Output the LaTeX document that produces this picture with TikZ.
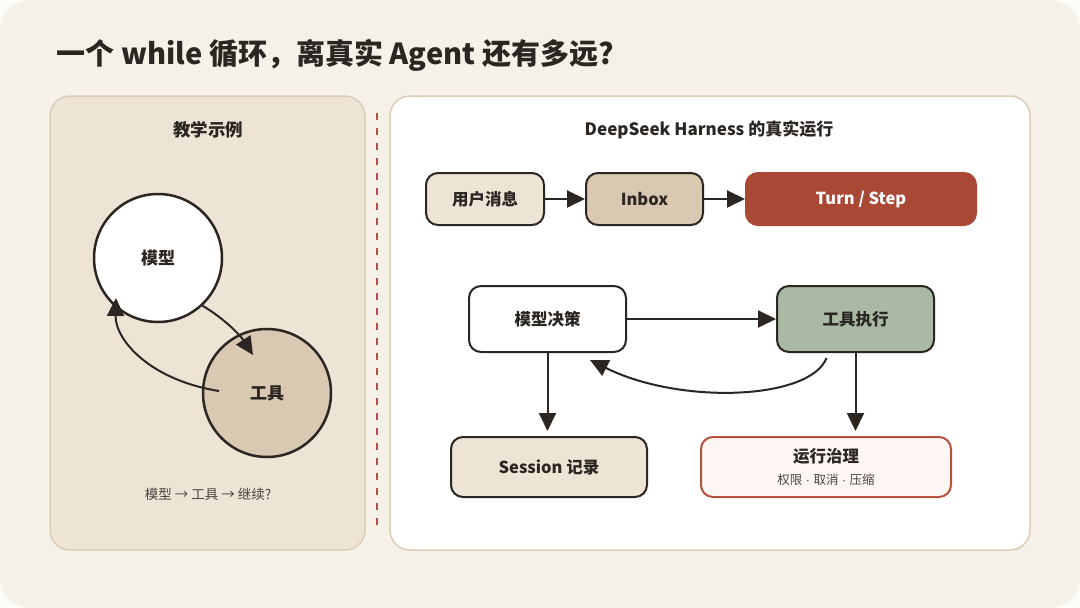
\documentclass[tikz,border=0pt]{standalone}
\usepackage{fontspec}
\setmainfont{Noto Sans CJK SC}
\newfontfamily\latinfont{Liberation Sans}
\usepackage{tikz}
\usetikzlibrary{arrows.meta,positioning,calc}
\definecolor{paper}{HTML}{F5F0E8}
\definecolor{rim}{HTML}{FCFBF8}
\definecolor{sand}{HTML}{EDE4D6}
\definecolor{sandline}{HTML}{DDCDB6}
\definecolor{clay}{HTML}{D9C8B2}
\definecolor{rust}{HTML}{A84835}
\definecolor{rustline}{HTML}{B5523D}
\definecolor{sage}{HTML}{A9B9A3}
\definecolor{blush}{HTML}{FEF6F3}
\definecolor{ink}{HTML}{2B2622}
\definecolor{muted}{HTML}{4A4440}
\newcommand{\middot}{{\latinfont\ ·\ }}

\begin{document}
\begin{tikzpicture}[x=1pt,y=-1pt,
  every node/.style={text=ink},
  panel/.style={draw=sandline,line width=1.5pt,rounded corners=20pt},
  box/.style={draw=ink,line width=2pt,rounded corners=12pt,inner sep=0pt,
    font=\bfseries\fontsize{16.5}{19}\selectfont},
  ring/.style={circle,draw=ink,line width=2.5pt,minimum size=128pt,inner sep=0pt,
    font=\bfseries\fontsize{17}{19}\selectfont},
  arr/.style={draw=ink,line width=2pt,-{Triangle[length=18pt,width=17pt]}}]
  \useasboundingbox (0,0) rectangle (1080,608);
  \fill[rim] (0,0) rectangle (1080,608);
  \fill[paper,rounded corners=30pt] (0,0) rectangle (1080,608);
  \node[anchor=base west,font=\bfseries\fontsize{29}{32}\selectfont] (title) at (53,64)
    {一个 while 循环，离真实 Agent 还有多远?};
  % teaching loop
  \draw[panel,fill=sand] (50,96) rectangle (365,550);
  \node[font=\bfseries\fontsize{17.5}{19}\selectfont] (lefthead) at (208,130) {教学示例};
  \node[ring,fill=white] (model) at (158,258) {模型};
  \node[ring,fill=clay] (tool) at (267,393) {工具};
  \draw[arr] (model.-47) .. controls ($(model.-47)+(22,13)$) and ($(tool.center)+(-27,-58)$) .. ($(tool.center)+(-14,-38)$);
  \draw[arr] ($(tool.center)+(-48,-2)$) .. controls (150,380) and (115,340) .. ($(model.center)+(-42,40)$);
  \node[font=\fontsize{13.5}{15}\selectfont,text=muted] (caption) at (208,494) {模型 → 工具 → 继续?};
  \draw[rustline,line width=2.5pt,dash pattern=on 7pt off 8pt] (377,113) -- (377,532);
  % real harness
  \draw[panel,fill=white] (390,96) rectangle (1030,550);
  \node[font=\bfseries\fontsize{17}{19}\selectfont] (righthead) at (709,130) {DeepSeek Harness 的真实运行};
  \node[box,fill=sand,minimum width=118pt,minimum height=52pt] (msg) at (485,199) {用户消息};
  \node[box,fill=clay,minimum width=117pt,minimum height=52pt] (inbox) at (644.5,199) {Inbox};
  \node[box,draw=rust,fill=rust,text=white,minimum width=230pt,minimum height=52pt] (turn) at (861,199) {Turn / Step};
  \node[box,fill=white,minimum width=157pt,minimum height=66pt] (decide) at (547.5,319) {模型决策};
  \node[box,fill=sage,minimum width=157pt,minimum height=66pt] (exec) at (855.5,319) {工具执行};
  \node[box,fill=sand,minimum width=196pt,minimum height=60pt] (session) at (549,467) {Session 记录};
  \node[box,draw=rustline,fill=blush,minimum width=250pt,minimum height=60pt] (gov) at (826,467) {};
  \node[font=\bfseries\fontsize{16.5}{19}\selectfont] (govhead) at (826,456) {运行治理};
  \node[font=\fontsize{12.5}{14}\selectfont,text=muted] (govsub) at (826,480) {权限\middot 取消\middot 压缩};
  \draw[arr] (msg) -- (inbox);
  \draw[arr] (inbox) -- (turn);
  \draw[arr] (decide) -- (exec);
  \draw[arr,shorten >=5pt] (decide.south) -- (decide.south |- session.north);
  \draw[arr,shorten >=5pt] (exec.south) -- (exec.south |- gov.north);
  \draw[arr] ([xshift=-29pt,yshift=-5pt]exec.south) .. controls (810,400) and (680,405) .. ([xshift=-37pt,yshift=-7pt]decide.south east);
\end{tikzpicture}
\end{document}
